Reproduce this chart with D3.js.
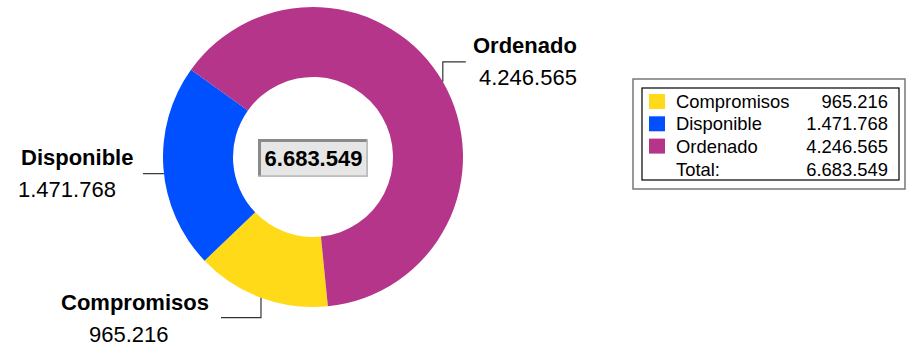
<!DOCTYPE html>
<html><head><meta charset="utf-8">
<script src="https://cdn.jsdelivr.net/npm/d3@7"></script>
<style>
html,body{margin:0;padding:0;background:#fff;}
svg{display:block;font-family:"Liberation Sans",Arial,sans-serif;}
</style></head>
<body>
<svg id="chart" width="913" height="346"></svg>
<script>
const categories = ["Compromisos", "Disponible", "Ordenado"];
const values = [965216, 1471768, 4246565];
const colors = ["#FFDA18", "#0050FF", "#B5358B"];
const totalLabel = "Total:";

const fmt = v => d3.format(",")(v).replace(/,/g, ".");
const total = d3.sum(values);
const data = categories.map((c, i) => ({cat: c, value: values[i], color: colors[i]}));

const svg = d3.select("#chart");
const cx = 313, cy = 157, rOuter = 150, rInner = 80;
const start = 174.3 * Math.PI / 180;

const pie = d3.pie().sort(null).value(d => d.value).startAngle(start).endAngle(start + 2 * Math.PI);
const arcs = pie(data);
const arc = d3.arc().innerRadius(rInner).outerRadius(rOuter);

const g = svg.append("g").attr("transform", `translate(${cx},${cy})`);
g.selectAll("path").data(arcs).join("path")
  .attr("d", arc).attr("fill", d => d.data.color);

// label layout (per category): leader elbow + text placement
const labelLayout = {
  "Ordenado":    {shift: 0, elbow: [0, -20], end: [23, 0], name: [473, 53], val: [479, 85]},
  "Disponible":  {shift: 6, elbow: null,     end: [-21, 0], name: [21, 165], val: [18, 197]},
  "Compromisos": {shift: 0, elbow: [0, 20],  end: [-40, 0], name: [61, 310], val: [89, 342]}
};

arcs.forEach(a => {
  const mid = (a.startAngle + a.endAngle) / 2;
  const L = labelLayout[a.data.cat];
  let ay = cy - rOuter * Math.cos(mid) + L.shift;
  let ax = cx + Math.sign(Math.sin(mid)) * Math.sqrt(rOuter * rOuter - (ay - cy) * (ay - cy));
  let pts = [[ax, ay]];
  let px = ax, py = ay;
  if (L.elbow) { px += L.elbow[0]; py += L.elbow[1]; pts.push([px, py]); }
  pts.push([px + L.end[0], py + L.end[1]]);
  svg.append("path").attr("d", d3.line()(pts))
    .attr("fill", "none").attr("stroke", "#333").attr("stroke-width", 1.2);
  svg.append("text").attr("x", L.name[0]).attr("y", L.name[1])
    .attr("font-size", 22).attr("font-weight", "bold").attr("fill", "#000").text(a.data.cat);
  svg.append("text").attr("x", L.val[0]).attr("y", L.val[1])
    .attr("font-size", 22).attr("fill", "#000").text(fmt(a.data.value));
});

// center total box
const bx = 258, by = 139, bw = 110, bh = 38;
svg.append("rect").attr("x", bx).attr("y", by).attr("width", bw).attr("height", bh).attr("fill", "#bdbdbd");
svg.append("rect").attr("x", bx).attr("y", by).attr("width", bw - 1.5).attr("height", bh - 1.5).attr("fill", "#8a8a8a");
svg.append("rect").attr("x", bx + 3).attr("y", by + 3).attr("width", bw - 4.5).attr("height", bh - 4.5).attr("fill", "#e6e6e6");
svg.append("text").attr("x", bx + bw / 2 + 0.5).attr("y", by + 26.5)
  .attr("text-anchor", "middle").attr("font-size", 22).attr("font-weight", "bold").text(fmt(total));

// legend
svg.append("rect").attr("x", 633).attr("y", 79).attr("width", 272).attr("height", 110)
  .attr("fill", "#fff").attr("stroke", "#777").attr("stroke-width", 1.5);
svg.append("rect").attr("x", 642).attr("y", 88).attr("width", 257).attr("height", 92)
  .attr("fill", "none").attr("stroke", "#000").attr("stroke-width", 1.2);
const rowY = i => 108 + i * 22.3;
const lg = svg.append("g");
data.forEach((d, i) => {
  lg.append("rect").attr("x", 649).attr("y", rowY(i) - 14).attr("width", 16).attr("height", 15).attr("fill", d.color);
  lg.append("text").attr("x", 676).attr("y", rowY(i)).attr("font-size", 18.4).text(d.cat);
  lg.append("text").attr("x", 888).attr("y", rowY(i)).attr("font-size", 18.4).attr("text-anchor", "end").text(fmt(d.value));
});
lg.append("text").attr("x", 676).attr("y", rowY(3) + 1).attr("font-size", 18.4).text(totalLabel);
lg.append("text").attr("x", 888).attr("y", rowY(3) + 1).attr("font-size", 18.4).attr("text-anchor", "end").text(fmt(total));
</script>
</body></html>
